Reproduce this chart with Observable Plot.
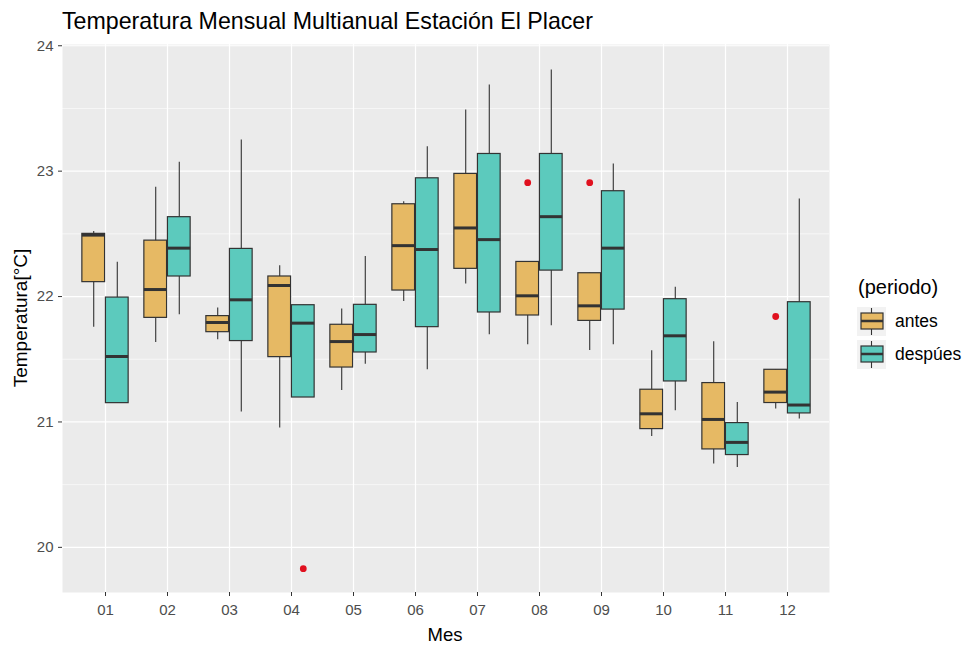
<!DOCTYPE html>
<html><head><meta charset="utf-8">
<script src="https://cdn.jsdelivr.net/npm/d3@7"></script>
<script src="https://cdn.jsdelivr.net/npm/@observablehq/plot@0.6"></script>
<style>
body{margin:0;background:#fff;font-family:"Liberation Sans",Arial,sans-serif;}
#wrap{position:relative;width:962px;height:651px;overflow:hidden;background:#fff}
#chart{position:absolute;left:0;top:0}
#title{position:absolute;left:62px;top:10px;font-size:23.2px;line-height:1;color:#000;white-space:nowrap}
#ytitle{position:absolute;left:20px;top:318px;transform:translate(-50%,-50%) rotate(-90deg);font-size:19px;line-height:1;color:#000;white-space:nowrap}
#xtitle{position:absolute;left:445px;top:626px;transform:translateX(-50%);font-size:18.5px;line-height:1;color:#000;white-space:nowrap}
#legend{position:absolute;left:850px;top:270px}
#chart g[aria-label="x-axis tick label"], #chart g[aria-label="y-axis tick label"]{fill:#4d4d4d}
#chart g[aria-label="x-axis tick"], #chart g[aria-label="y-axis tick"]{stroke:#333}
</style></head><body>
<div id="wrap">
<div id="chart"></div>
<div id="title">Temperatura Mensual Multianual Estación El Placer</div>
<div id="ytitle">Temperatura[°C]</div>
<div id="xtitle">Mes</div>
<svg id="legend" width="112" height="110"></svg>
</div>
<script>
// ---- data ----
const meses = ["01","02","03","04","05","06","07","08","09","10","11","12"];
const periodos = ["antes","despúes"];
const colores = ["#E6B964","#5CCABD"];
const yTicks = [20,21,22,23,24];
const yMinor = [20.5,21.5,22.5,23.5];

const antesMin = [21.756,21.633,21.655,20.951,21.251,21.960,22.101,21.615,21.570,20.885,20.665,21.103];
const antesQ1  = [22.115,21.830,21.716,21.517,21.434,22.048,22.221,21.849,21.806,20.943,20.781,21.151];
const antesMed = [22.490,22.056,21.793,22.088,21.641,22.406,22.547,22.006,21.926,21.065,21.020,21.238];
const antesQ3  = [22.500,22.446,21.844,22.160,21.775,22.736,22.978,22.276,22.186,21.257,21.310,21.416];
const antesMax = [22.518,22.872,21.908,22.245,21.900,22.757,23.488,22.276,22.186,21.567,21.639,21.416];

const despMin = [21.150,21.854,21.079,21.195,21.461,21.416,21.695,21.767,21.615,21.089,20.637,21.023];
const despQ1  = [21.150,22.160,21.645,21.195,21.554,21.756,21.873,22.207,21.896,21.323,20.736,21.068];
const despMed = [21.522,22.386,21.974,21.788,21.697,22.375,22.454,22.637,22.386,21.687,20.837,21.135];
const despQ3  = [21.992,22.633,22.380,21.931,21.934,22.943,23.137,23.137,22.840,21.979,20.991,21.955];
const despMax = [22.274,23.071,23.249,21.931,22.319,23.195,23.687,23.806,23.057,22.075,21.155,22.778];

const outMes = ["04","08","09","12"];
const outPeriodo = ["despúes","antes","antes","antes"];
const outValor = [19.83,22.908,22.908,21.841];

// ---- tables ----
const stats = [
  [antesMin, antesQ1, antesMed, antesQ3, antesMax],
  [despMin, despQ1, despMed, despQ3, despMax]
];
const rows = [];
periodos.forEach((p, k) => {
  const [lo, q1, md, q3, hi] = stats[k];
  meses.forEach((m, i) => rows.push({mes: m, periodo: p, low: lo[i], q1: q1[i], med: md[i], q3: q3[i], high: hi[i]}));
});
const outliers = outMes.map((m, i) => ({mes: m, periodo: outPeriodo[i], valor: outValor[i]}));

// ---- layout ----
const W = 962, H = 651, mL = 62, mR = 133, mT = 44, mB = 59;
const step = (W - mL - mR) / 12.2;

const marks = [
  Plot.frame({fill: "#EBEBEB", stroke: null}),
  Plot.ruleY(yMinor, {stroke: "#fff", strokeWidth: 0.6}),
  Plot.gridY({ticks: yTicks, stroke: "#fff", strokeOpacity: 1, strokeWidth: 1.2}),
  Plot.gridX({stroke: "#fff", strokeOpacity: 1, strokeWidth: 1.2})
];
periodos.forEach((p, k) => {
  const sign = k === 0 ? -1 : 1;
  const dx = sign * 0.1875 * step;
  const insetLeft = k === 0 ? 0.125 * step : 0.5 * step;
  const insetRight = k === 0 ? 0.5 * step : 0.125 * step;
  const data = rows.filter(d => d.periodo === p);
  marks.push(
    Plot.ruleX(data, {x: "mes", y1: "low", y2: "high", dx, stroke: "#333", strokeWidth: 1.1}),
    Plot.barY(data, {x: "mes", y1: "q1", y2: "q3", fill: colores[k], stroke: "#333", strokeWidth: 1.2, insetLeft, insetRight}),
    Plot.tickY(data, {x: "mes", y: "med", stroke: "#333", strokeWidth: 3, insetLeft, insetRight}),
    Plot.dot(outliers.filter(d => d.periodo === p), {x: "mes", y: "valor", dx, r: 3.4, fill: "#E0101E", stroke: null})
  );
});
marks.push(
  Plot.axisX({tickSize: 4, tickPadding: 8, fontSize: 15, label: null}),
  Plot.axisY({ticks: yTicks, tickFormat: d3.format("d"), tickSize: 4, tickPadding: 5, fontSize: 15, label: null})
);

const chart = Plot.plot({
  width: W, height: H,
  marginLeft: mL, marginRight: mR, marginTop: mT, marginBottom: mB,
  style: {fontFamily: "Liberation Sans, Arial, sans-serif", background: "transparent", color: "#333"},
  x: {type: "band", domain: meses, paddingInner: 0, paddingOuter: 0.1},
  y: {domain: [19.64, 24.01]},
  marks
});
document.getElementById("chart").appendChild(chart);

// ---- legend ----
const lg = d3.select("#legend");
lg.append("text").attr("x", 8).attr("y", 24).attr("font-size", 20).attr("fill", "#000").text("(periodo)");
periodos.forEach((p, k) => {
  const top = 37 + k * 33;
  const g = lg.append("g");
  g.append("rect").attr("x", 7).attr("y", top).attr("width", 29).attr("height", 29).attr("fill", "#F2F2F2");
  g.append("line").attr("x1", 21.5).attr("x2", 21.5).attr("y1", top + 1).attr("y2", top + 28).attr("stroke", "#333").attr("stroke-width", 1.1);
  g.append("rect").attr("x", 11).attr("y", top + 6).attr("width", 22).attr("height", 16).attr("fill", colores[k]).attr("stroke", "#333").attr("stroke-width", 1.2);
  g.append("line").attr("x1", 11).attr("x2", 33).attr("y1", top + 14).attr("y2", top + 14).attr("stroke", "#333").attr("stroke-width", 2.5);
  g.append("text").attr("x", 45).attr("y", top + 20).attr("font-size", 17.5).attr("fill", "#000").text(p);
});
</script>
</body></html>
